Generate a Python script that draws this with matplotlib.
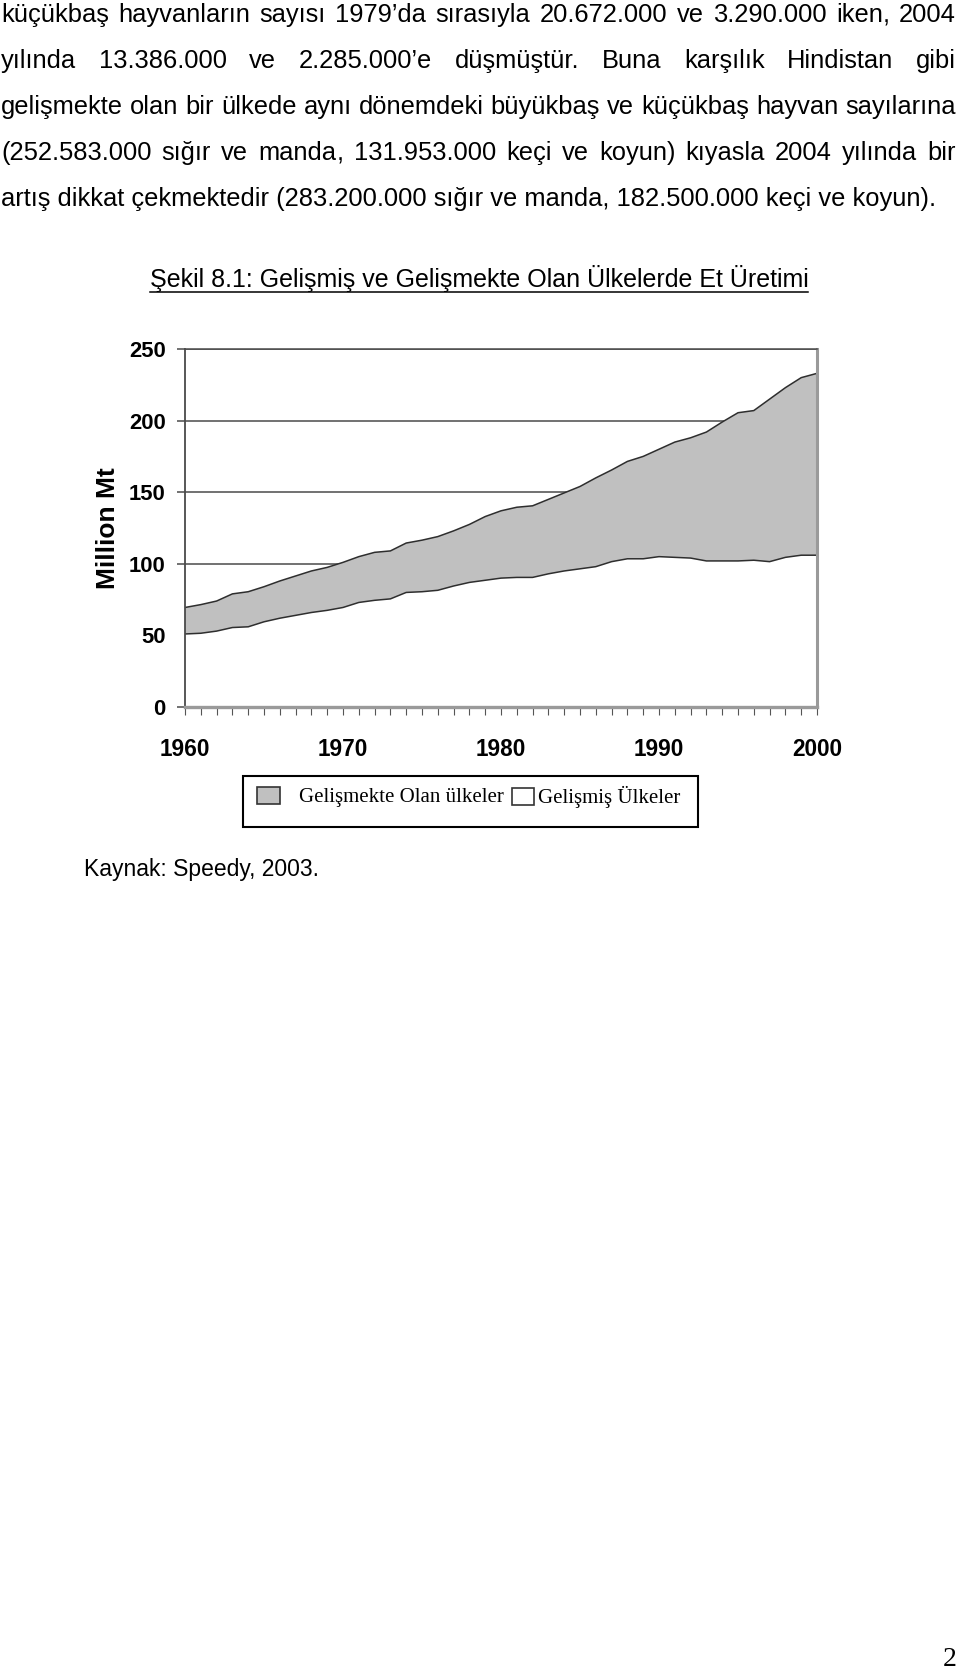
import matplotlib
matplotlib.use('Agg')
import matplotlib.pyplot as plt
from matplotlib import font_manager
from matplotlib.patches import Rectangle
from matplotlib.lines import Line2D

W, H = 960, 1670

# Veri: 1960-2000 et üretimi (milyon ton)
years = list(range(1960, 2001))
gelismis = [51, 51.5, 53, 55.5, 56, 59.5, 62, 64, 66, 67.5,
            69.5, 73, 74.5, 75.5, 80, 80.5, 81.5, 84.5, 87, 88.5,
            90, 90.5, 90.5, 93, 95, 96.5, 98, 101.5, 103.5, 103.5,
            105, 104.5, 104, 102, 102, 102, 102.5, 101.5, 104.5, 106,
            106]
gelismekte = [18.5, 20, 21, 23.5, 24.5, 24.5, 26, 27.5, 29, 30,
              31.5, 32, 33.5, 33.5, 34.5, 36, 37.5, 38.5, 40.5, 44.5,
              47, 49, 50, 52, 54.5, 57.5, 62, 64, 68, 71.5,
              75, 80.5, 84, 90, 97, 103.5, 104.5, 113.5, 118.5, 124,
              127]
x_ticks = [1960, 1970, 1980, 1990, 2000]
y_ticks = [0, 50, 100, 150, 200, 250]
legend_labels = ['Gelişmekte Olan ülkeler', 'Gelişmiş Ülkeler']

body_lines = [
    'küçükbaş hayvanların sayısı 1979’da sırasıyla 20.672.000 ve 3.290.000 iken, 2004',
    'yılında 13.386.000 ve 2.285.000’e düşmüştür. Buna karşılık Hindistan gibi',
    'gelişmekte olan bir ülkede aynı dönemdeki büyükbaş ve küçükbaş hayvan sayılarına',
    '(252.583.000 sığır ve manda, 131.953.000 keçi ve koyun) kıyasla 2004 yılında bir',
    'artış dikkat çekmektedir (283.200.000 sığır ve manda, 182.500.000 keçi ve koyun).',
]
caption = 'Şekil 8.1: Gelişmiş ve Gelişmekte Olan Ülkelerde Et Üretimi'
source = 'Kaynak: Speedy, 2003.'


def narrow_family():
    try:
        font_manager.findfont(font_manager.FontProperties(family='Liberation Sans Narrow'),
                              fallback_to_default=False)
        return 'Liberation Sans Narrow', 1.0
    except ValueError:
        return 'Liberation Sans', 0.88


def fx(x):
    return x / W


def fy(y):
    return 1 - y / H


NARROW, nscale = narrow_family()
SANS = 'Liberation Sans'
SERIF = 'Liberation Serif'

fig = plt.figure(figsize=(9.6, 16.7), dpi=100)
fig.patch.set_facecolor('white')
renderer = fig.canvas.get_renderer()


def text_width(s, size, **kw):
    t = fig.text(0, 0, s, fontsize=size, **kw)
    w = t.get_window_extent(renderer).width
    t.remove()
    return w


# Metin paragrafı (iki yana yaslı)
body_size = 10 * 940 / text_width(body_lines[-1], 10, family=SANS)
for i, line in enumerate(body_lines):
    y = fy(22 + 46 * i)
    if i == len(body_lines) - 1:
        fig.text(fx(1), y, line, fontsize=body_size, family=SANS, va='baseline')
        continue
    words = line.split(' ')
    gap_total = 955 - sum(text_width(w, body_size, family=SANS) for w in words)
    gap = gap_total / (len(words) - 1)
    x = 1
    for w in words:
        # virgülü ayrı çiz, kelimenin taban çizgisi kaymasın
        parts = [w[:-1], ','] if w.endswith(',') else [w]
        for p in parts:
            fig.text(fx(x), y, p, fontsize=body_size, family=SANS, va='baseline')
            x += text_width(p, body_size, family=SANS)
        x += gap

# Şekil başlığı (altı çizili)
cap_size = 10 * 662 / text_width(caption, 10, family=SANS)
cap = fig.text(fx(479), fy(287), caption, fontsize=cap_size, family=SANS,
               ha='center', va='baseline')
bb = cap.get_window_extent(renderer)
fig.add_artist(Line2D([bb.x0 / W, bb.x1 / W], [fy(292), fy(292)],
                      transform=fig.transFigure, color='black', lw=1.1))

# Grafik
ax = fig.add_axes([fx(185), fy(707), 632 / W, 358 / H])
total = [a + b for a, b in zip(gelismis, gelismekte)]
f_dev = ax.fill_between(years, 0, gelismis, facecolor='white', edgecolor='none')
f_ing = ax.fill_between(years, gelismis, total, facecolor='#c0c0c0', edgecolor='none')
ax.plot(years, gelismis, color='#2e2e2e', lw=1.1)
ax.plot(years, total, color='#2e2e2e', lw=1.1)

ax.set_xlim(1960, 2000)
ax.set_ylim(0, 250)
ax.set_xticks(x_ticks)
ax.set_xticks(years, minor=True)
ax.set_yticks(y_ticks)
ax.set_xticklabels([str(v) for v in x_ticks], fontsize=18.5 * nscale,
                   family=NARROW, fontweight='bold')
ax.set_yticklabels([str(v) for v in y_ticks], fontsize=18 * nscale,
                   family=NARROW, fontweight='bold')
ax.tick_params(axis='x', which='both', direction='out', length=6, width=0.8,
               color='#555555', pad=16)
ax.tick_params(axis='y', direction='out', length=6, width=1.1,
               color='#4a4a4a', pad=8)
ax.yaxis.get_major_ticks()[1].tick1line.set_visible(False)

ax.grid(axis='y', color='#4a4a4a', lw=1.1)
ax.set_axisbelow(True)
ax.spines['top'].set_color('#4a4a4a')
ax.spines['top'].set_linewidth(1.1)
ax.spines['left'].set_color('#4a4a4a')
ax.spines['left'].set_linewidth(1.3)
ax.spines['right'].set_color('#9a9a9a')
ax.spines['right'].set_linewidth(2.2)
ax.spines['bottom'].set_color('#9a9a9a')
ax.spines['bottom'].set_linewidth(2.4)
ax.set_facecolor('white')

ax.set_ylabel('Million Mt', fontsize=19, family=SANS, fontweight='bold')
ax.yaxis.set_label_coords(-0.103, 0.5)

# Lejant kutusu
fig.add_artist(Rectangle((fx(243), fy(827)), 455 / W, 51 / H, transform=fig.transFigure,
                         fill=False, edgecolor='black', lw=1.5))
fig.add_artist(Rectangle((fx(257), fy(804)), 23 / W, 17 / H, transform=fig.transFigure,
                         facecolor=f_ing.get_facecolor()[0], edgecolor='#333333', lw=1.2))
fig.add_artist(Rectangle((fx(512), fy(805)), 22 / W, 17 / H, transform=fig.transFigure,
                         facecolor=f_dev.get_facecolor()[0], edgecolor='#333333', lw=1.2))
fig.text(fx(299), fy(797), legend_labels[0], fontsize=15, family=SERIF, va='center')
fig.text(fx(538), fy(797), legend_labels[1], fontsize=15, family=SERIF, va='center')

# Kaynak ve sayfa numarası
src_size = 10 * 235 / text_width(source, 10, family=SANS)
fig.text(fx(84), fy(876), source, fontsize=src_size, family=SANS, va='baseline')
fig.text(fx(943), fy(1666), '2', fontsize=20, family=SERIF, va='baseline')

fig.savefig('out.png', dpi=100, facecolor='white')
